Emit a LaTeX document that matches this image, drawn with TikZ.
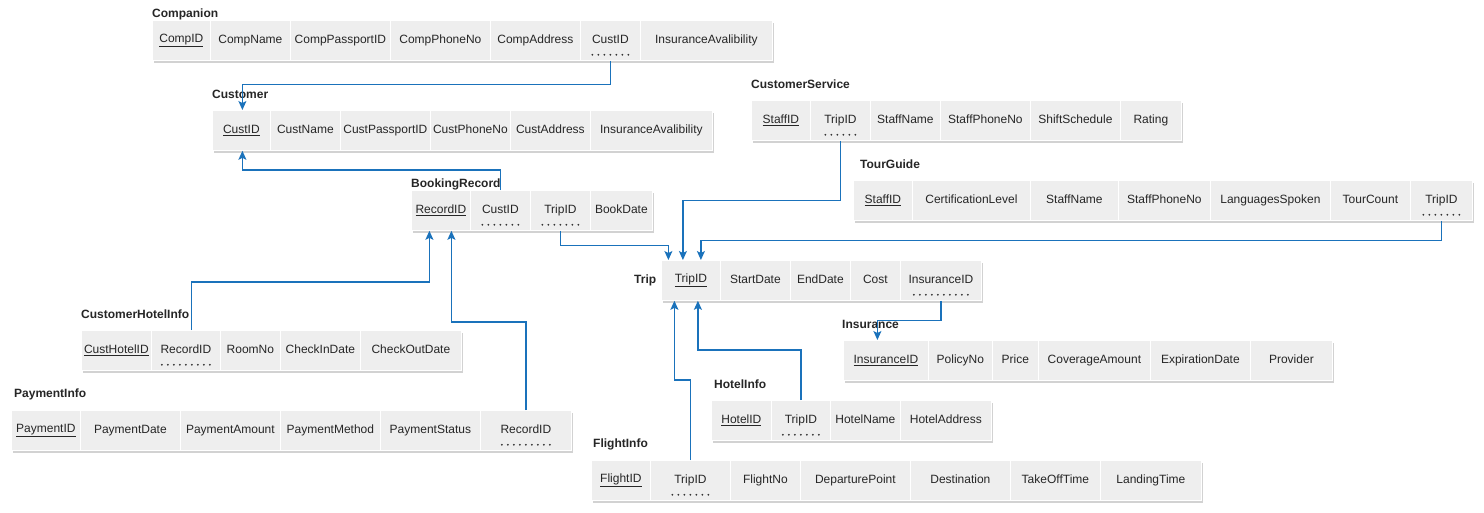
\documentclass[tikz,border=0pt]{standalone}
\usepackage{fontspec}
\setmainfont{Liberation Sans}
\usetikzlibrary{arrows.meta,shadows,calc}
\definecolor{cellgray}{HTML}{EEEEEE}
\definecolor{linkblue}{HTML}{1A72BB}
\tikzset{
 cellst/.style={fill=cellgray, draw=white, line width=0.8pt, inner sep=0pt, minimum height=40pt,
   font=\fontsize{12}{14}\selectfont, text=black!85,
   drop shadow={shadow xshift=2pt, shadow yshift=-2.5pt, opacity=0.35}},
 lbl/.style={font=\bfseries\fontsize{12}{14}\selectfont, inner sep=0pt, anchor=west, text=black!85},
 link/.style={draw=linkblue, line width=1.2pt, -{Stealth[length=9pt,width=8pt,inset=2pt]}},
 fkdot/.style={fill=black!80}
}
\newcommand\tcell[5]{\pgfmathsetmacro\tcw{#3-#2}\node[cellst, minimum width=\tcw pt, anchor=north west] (#1) at (#2,#4) {\vphantom{Ag}#5};}
\newcommand\fkdots[2]{\foreach \i in {1,...,#2}{\fill[fkdot] ($(#1.south)+({(\i-(#2+1)/2)*6},-6)$) circle (1pt);}}
\begin{document}
\begin{tikzpicture}[x=1pt,y=-1pt]
\useasboundingbox (0,0) rectangle (1484,512);
\fill[white] (0,0) rectangle (1484,512);
% Companion
\node[lbl] (lComp) at (152,14) {Companion};
\tcell{comp1}{152}{210}{20}{\underline{CompID}}
\tcell{comp2}{210}{290}{20}{CompName}
\tcell{comp3}{290}{390}{20}{CompPassportID}
\tcell{comp4}{390}{490}{20}{CompPhoneNo}
\tcell{comp5}{490}{580}{20}{CompAddress}
\tcell{compCust}{580}{640}{20}{CustID}
\tcell{comp7}{640}{772}{20}{InsuranceAvalibility}
\fkdots{compCust}{7}
% Customer
\node[lbl] (lCust) at (212,94) {Customer};
\tcell{cust1}{212}{270}{110}{\underline{CustID}}
\tcell{cust2}{270}{340}{110}{CustName}
\tcell{cust3}{340}{430}{110}{CustPassportID}
\tcell{cust4}{430}{510}{110}{CustPhoneNo}
\tcell{cust5}{510}{590}{110}{CustAddress}
\tcell{cust6}{590}{712}{110}{InsuranceAvalibility}
% CustomerService
\node[lbl] (lCS) at (751,84) {CustomerService};
\tcell{cs1}{751}{810}{100}{\underline{StaffID}}
\tcell{csTrip}{810}{870}{100}{TripID}
\tcell{cs3}{870}{940}{100}{StaffName}
\tcell{cs4}{940}{1030}{100}{StaffPhoneNo}
\tcell{cs5}{1030}{1120}{100}{ShiftSchedule}
\tcell{cs6}{1120}{1181}{100}{Rating}
\fkdots{csTrip}{6}
% TourGuide
\node[lbl] (lTG) at (860,164) {TourGuide};
\tcell{tg1}{853}{912}{180}{\underline{StaffID}}
\tcell{tg2}{912}{1030}{180}{CertificationLevel}
\tcell{tg3}{1030}{1118}{180}{StaffName}
\tcell{tg4}{1118}{1210}{180}{StaffPhoneNo}
\tcell{tg5}{1210}{1330}{180}{LanguagesSpoken}
\tcell{tg6}{1330}{1410}{180}{TourCount}
\tcell{tgTrip}{1410}{1472}{180}{TripID}
\fkdots{tgTrip}{7}
% BookingRecord
\node[lbl] (lBook) at (411,184) {BookingRecord};
\tcell{bookRec}{411}{470}{190}{\underline{RecordID}}
\tcell{bookCust}{470}{530}{190}{CustID}
\tcell{bookTrip}{530}{590}{190}{TripID}
\tcell{book4}{590}{652}{190}{BookDate}
\fkdots{bookCust}{7}
\fkdots{bookTrip}{7}
% Trip
\node[lbl] (lTrip) at (634,280) {Trip};
\tcell{trip1}{661}{720}{260}{\underline{TripID}}
\tcell{trip2}{720}{790}{260}{StartDate}
\tcell{trip3}{790}{850}{260}{EndDate}
\tcell{trip4}{850}{900}{260}{Cost}
\tcell{tripIns}{900}{981}{260}{InsuranceID}
\fkdots{tripIns}{10}
% Insurance
\node[lbl] (lIns) at (842,324) {Insurance};
\tcell{ins1}{843}{928}{340}{\underline{InsuranceID}}
\tcell{ins2}{928}{992}{340}{PolicyNo}
\tcell{ins3}{992}{1038}{340}{Price}
\tcell{ins4}{1038}{1150}{340}{CoverageAmount}
\tcell{ins5}{1150}{1250}{340}{ExpirationDate}
\tcell{ins6}{1250}{1332}{340}{Provider}
% HotelInfo
\node[lbl] (lHot) at (714,384) {HotelInfo};
\tcell{hot1}{711}{771}{400}{\underline{HotelID}}
\tcell{hotTrip}{771}{830}{400}{TripID}
\tcell{hot3}{830}{900}{400}{HotelName}
\tcell{hot4}{900}{991}{400}{HotelAddress}
\fkdots{hotTrip}{7}
% FlightInfo
\node[lbl] (lFl) at (593,444) {FlightInfo};
\tcell{fl1}{591}{650}{460}{\underline{FlightID}}
\tcell{flTrip}{650}{730}{460}{TripID}
\tcell{fl3}{730}{800}{460}{FlightNo}
\tcell{fl4}{800}{910}{460}{DeparturePoint}
\tcell{fl5}{910}{1010}{460}{Destination}
\tcell{fl6}{1010}{1100}{460}{TakeOffTime}
\tcell{fl7}{1100}{1201}{460}{LandingTime}
\fkdots{flTrip}{7}
% CustomerHotelInfo
\node[lbl] (lCH) at (81,314) {CustomerHotelInfo};
\tcell{ch1}{81}{151}{330}{\underline{CustHotelID}}
\tcell{chRec}{151}{220}{330}{RecordID}
\tcell{ch3}{220}{280}{330}{RoomNo}
\tcell{ch4}{280}{360}{330}{CheckInDate}
\tcell{ch5}{360}{461}{330}{CheckOutDate}
\fkdots{chRec}{9}
% PaymentInfo
\node[lbl] (lPay) at (14,394) {PaymentInfo};
\tcell{pay1}{11}{80}{410}{\underline{PaymentID}}
\tcell{pay2}{80}{180}{410}{PaymentDate}
\tcell{pay3}{180}{280}{410}{PaymentAmount}
\tcell{pay4}{280}{380}{410}{PaymentMethod}
\tcell{pay5}{380}{480}{410}{PaymentStatus}
\tcell{payRec}{480}{571}{410}{RecordID}
\fkdots{payRec}{9}
% connectors
\draw[link] (compCust.south) -- ++(0,24) -| ([xshift=1pt]cust1.north);
\draw[link] (bookCust.north) -- ++(0,-20) -| ([xshift=1pt]cust1.south);
\draw[link] (bookTrip.south) -- ++(0,15) -| ([xshift=-22.5pt]trip1.north);
\draw[link] (csTrip.south) -- ++(0,60) -| ([xshift=-8pt]trip1.north);
\draw[link] (tgTrip.south) -- ++(0,20) -| ([xshift=10pt]trip1.north);
\draw[link] (tripIns.south) -- ++(0,20) -| ([xshift=-8.5pt]ins1.north);
\draw[link] (hotTrip.north) -- ++(0,-50) -| ([xshift=7pt]trip1.south);
\draw[link] (flTrip.north) -- ++(0,-80) -| ([xshift=-16.5pt]trip1.south);
\draw[link] ([xshift=5.5pt]chRec.north) -- ++(0,-48) -| ([xshift=-11.5pt]bookRec.south);
\draw[link] (payRec.north) -- ++(0,-88) -| ([xshift=10.5pt]bookRec.south);
\end{tikzpicture}
\end{document}
